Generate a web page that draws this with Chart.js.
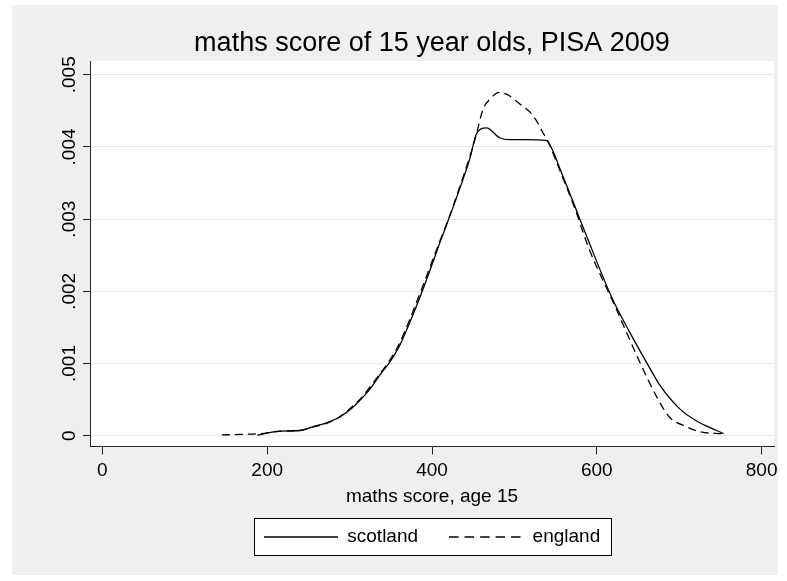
<!DOCTYPE html>
<html>
<head>
<meta charset="utf-8">
<script src="https://cdn.jsdelivr.net/npm/chart.js@4/dist/chart.umd.min.js"></script>
<style>
html,body{margin:0;padding:0;background:#fff;}
canvas{display:block;}
</style>
</head>
<body>
<canvas id="c" width="787" height="581"></canvas>
<script>
// ---- data ----
const titleText = 'maths score of 15 year olds, PISA 2009';
const xAxisTitle = 'maths score, age 15';
const seriesNames = ['scotland', 'england'];
const xTicks = [0, 200, 400, 600, 800];
const yTicks = [0, 0.001, 0.002, 0.003, 0.004, 0.005];
const yTickLabels = ['0', '.001', '.002', '.003', '.004', '.005'];

const scotlandScore = [188, 215, 240, 255, 272, 288, 304, 316, 327, 337, 349, 361, 373, 385, 397, 409, 422, 434, 446, 454, 466, 482, 494, 512, 539, 547, 555, 573, 588, 619, 640, 662, 676, 701, 721, 746, 754];
const scotlandDensity = [0.000007, 0.000064, 0.000072, 0.000123, 0.000177, 0.000259, 0.000395, 0.000531, 0.000681, 0.000845, 0.001022, 0.001253, 0.001567, 0.001907, 0.002275, 0.002657, 0.003052, 0.003433, 0.003842, 0.004183, 0.004264, 0.004128, 0.004101, 0.004101, 0.004087, 0.003937, 0.003706, 0.003188, 0.002752, 0.001894, 0.001431, 0.000981, 0.000708, 0.000368, 0.000204, 0.000068, 0.000027];

const englandScore = [145, 167, 191, 215, 240, 255, 272, 288, 304, 316, 327, 337, 349, 361, 373, 385, 397, 409, 422, 434, 446, 453, 462, 470, 482, 491, 507, 519, 527, 534, 541, 547, 555, 573, 591, 622, 636, 652, 673, 688, 709, 725, 753];
const englandDensity = [0.000010, 0.000018, 0.000027, 0.000060, 0.000072, 0.000120, 0.000170, 0.000260, 0.000410, 0.000545, 0.000710, 0.000860, 0.001050, 0.001290, 0.001610, 0.001960, 0.002320, 0.002680, 0.003065, 0.003460, 0.003870, 0.004140, 0.004523, 0.004659, 0.004755, 0.004728, 0.004591, 0.004482, 0.004360, 0.004210, 0.004070, 0.003910, 0.003680, 0.003160, 0.002575, 0.001798, 0.001431, 0.001022, 0.000531, 0.000259, 0.000123, 0.000054, 0.000027];

const toPoints = (xs, ys) => xs.map((x, i) => ({x: x, y: ys[i]}));

// ---- style ----
const FONT = "'Liberation Sans', Arial, sans-serif";
Chart.defaults.font.family = FONT;
Chart.defaults.color = '#000';

const curveDashes = [[], [8, 5]];
const legendDashes = [[], [9.5, 6]];

function makeSample(dash) {
  const c = document.createElement('canvas');
  c.width = 74; c.height = 4;
  const g = c.getContext('2d');
  g.strokeStyle = '#000';
  g.lineWidth = 1.3;
  g.setLineDash(dash);
  g.beginPath();
  g.moveTo(0, 2);
  g.lineTo(74, 2);
  g.stroke();
  return c;
}
const legendSamples = legendDashes.map(makeSample);

const bgPlugin = {
  id: 'bgPlugin',
  beforeDraw(chart) {
    const {ctx, chartArea: a, width, height} = chart;
    ctx.save();
    ctx.fillStyle = '#ffffff';
    ctx.fillRect(0, 0, width, height);
    ctx.fillStyle = '#efefef';
    ctx.fillRect(12, 5, width - 21, height - 11);
    ctx.fillStyle = '#ffffff';
    ctx.fillRect(a.left, a.top, a.right - a.left, a.bottom - a.top);
    const hb = chart.legend && chart.legend.legendHitBoxes;
    if (hb && hb.length) {
      const left = Math.min(...hb.map(h => h.left)) - 10;
      const right = Math.max(...hb.map(h => h.left + h.width)) + 11;
      const top = Math.min(...hb.map(h => h.top)) - 9.5;
      const bottom = Math.max(...hb.map(h => h.top + h.height)) + 8.5;
      ctx.fillStyle = '#ffffff';
      ctx.fillRect(left, top, right - left, bottom - top);
      ctx.strokeStyle = '#000';
      ctx.lineWidth = 1;
      ctx.strokeRect(Math.round(left) + 0.5, Math.round(top) + 0.5, Math.round(right - left), Math.round(bottom - top));
    }
    ctx.restore();
  }
};

new Chart(document.getElementById('c'), {
  type: 'line',
  data: {
    datasets: [
      {
        label: seriesNames[0],
        data: toPoints(scotlandScore, scotlandDensity),
        borderColor: '#000',
        backgroundColor: '#000',
        borderWidth: 1.3,
        borderDash: curveDashes[0],
        pointRadius: 0,
        fill: false,
        cubicInterpolationMode: 'monotone'
      },
      {
        label: seriesNames[1],
        data: toPoints(englandScore, englandDensity),
        borderColor: '#000',
        backgroundColor: '#000',
        borderWidth: 1.3,
        borderDash: curveDashes[1],
        pointRadius: 0,
        fill: false,
        cubicInterpolationMode: 'monotone'
      }
    ]
  },
  options: {
    responsive: false,
    animation: false,
    devicePixelRatio: 1,
    layout: { padding: { left: 12, right: 13, top: 0, bottom: 24.5 } },
    plugins: {
      tooltip: { enabled: false },
      title: {
        display: true,
        text: titleText,
        fullSize: false,
        color: '#000',
        font: { size: 27, weight: 'normal', family: FONT },
        padding: { top: 27.8, bottom: 0.8 }
      },
      legend: {
        display: true,
        position: 'bottom',
        fullSize: false,
        labels: {
          usePointStyle: true,
          pointStyleWidth: 74,
          padding: 31,
          color: '#000',
          font: { size: 19, family: FONT, lineHeight: 1 },
          generateLabels: (chart) => {
            const items = Chart.defaults.plugins.legend.labels.generateLabels(chart);
            items.forEach((it, i) => { it.pointStyle = legendSamples[i]; });
            return items;
          }
        }
      }
    },
    scales: {
      x: {
        type: 'linear',
        min: -15,
        max: 815,
        afterBuildTicks: (s) => { s.ticks = xTicks.map(v => ({value: v})); },
        ticks: {
          padding: 6.5,
          color: '#000',
          font: { size: 19, family: FONT, lineHeight: 1 },
          maxRotation: 0,
          minRotation: 0
        },
        grid: {
          display: true,
          drawOnChartArea: false,
          drawTicks: true,
          tickLength: 8,
          tickColor: '#222',
          tickWidth: 1
        },
        border: { display: true, color: '#222', width: 1 },
        title: {
          display: true,
          text: xAxisTitle,
          color: '#000',
          font: { size: 19, family: FONT, lineHeight: 1 },
          padding: { top: 1, bottom: -10 }
        }
      },
      y: {
        type: 'linear',
        min: -0.00015,
        max: 0.005191,
        afterBuildTicks: (s) => { s.ticks = yTicks.map(v => ({value: v})); },
        afterFit: (s) => { s.width = 78; },
        ticks: {
          minRotation: 90,
          maxRotation: 90,
          crossAlign: 'center',
          padding: -5,
          color: '#000',
          font: { size: 19, family: FONT, lineHeight: 1 },
          callback: (v, i) => yTickLabels[i]
        },
        grid: {
          display: true,
          drawOnChartArea: true,
          color: '#e6e6e6',
          lineWidth: 1,
          drawTicks: true,
          tickLength: 7,
          tickColor: '#222',
          tickWidth: 1
        },
        border: { display: true, color: '#222', width: 1 }
      }
    }
  },
  plugins: [bgPlugin]
});
</script>
</body>
</html>
